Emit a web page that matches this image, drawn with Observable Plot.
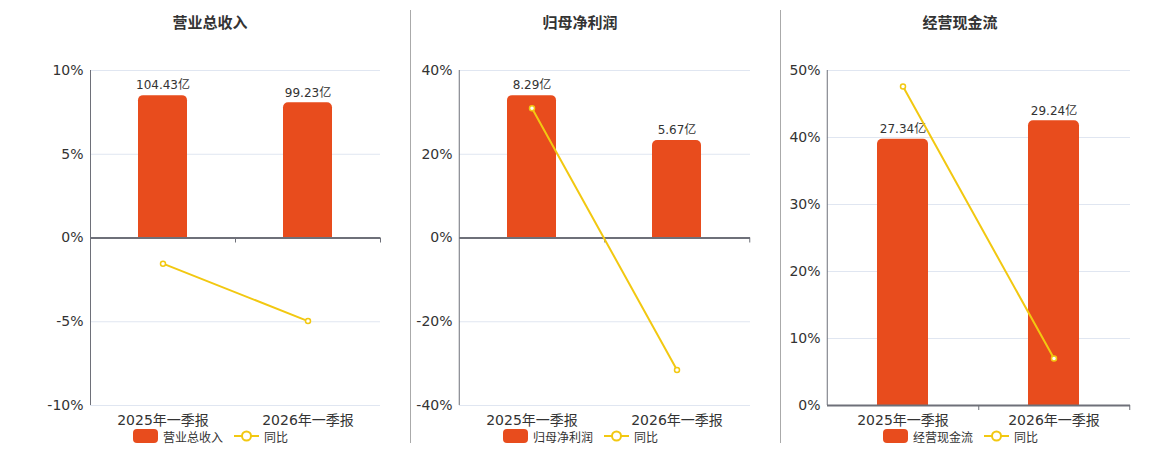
<!DOCTYPE html>
<html><head><meta charset="utf-8">
<script src="https://cdn.jsdelivr.net/npm/d3@7"></script>
<script src="https://cdn.jsdelivr.net/npm/@observablehq/plot@0.6"></script>
<style>
body{margin:0;background:#fff;font-family:"DejaVu Sans","Noto Sans CJK SC",sans-serif;}
#root{position:relative;width:1160px;height:450px;overflow:hidden}
.title{position:absolute;top:13px;line-height:20px;font-size:15px;font-weight:bold;color:#333;transform:translateX(-50%);white-space:nowrap}
.sep{position:absolute;top:10px;height:433px;width:1px;background:#aaa}
.plot{position:absolute;top:0}
.legend{position:absolute;top:429px;height:14px;display:flex;align-items:center;font-size:12px;color:#333;white-space:nowrap}
.sw{width:25px;height:14px;border-radius:4px;background:#E84C1D}
</style></head>
<body><div id="root"></div>
<script>
const periods = ["2025年一季报", "2026年一季报"];
const titles = ["营业总收入", "归母净利润", "经营现金流"];
const revenue = [104.43, 99.23];
const revenueYoY = [-1.53, -4.96];
const profit = [8.29, 5.67];
const profitYoY = [31.0, -31.5];
const cashflow = [27.34, 29.24];
const cashflowYoY = [47.6, 7.0];
const ticks1 = [-10, -5, 0, 5, 10];
const ticks2 = [-40, -20, 0, 20, 40];
const ticks3 = [0, 10, 20, 30, 40, 50];
const yoyName = "同比";

const RED = "#E84C1D", YEL = "#F2C811", AXIS = "#6E7079", GRID = "#E0E6F1";
const root = document.getElementById("root");

const panels = [
  {title: titles[0], values: revenue, yoy: revenueYoY, ticks: ticks1, left: 90, right: 380, center: 210, legendLeft: 133},
  {title: titles[1], values: profit, yoy: profitYoY, ticks: ticks2, left: 459, right: 750, center: 580, legendLeft: 503},
  {title: titles[2], values: cashflow, yoy: cashflowYoY, ticks: ticks3, left: 827, right: 1130, center: 960, legendLeft: 883}
];

[410, 780].forEach(x => {
  const s = document.createElement("div");
  s.className = "sep"; s.style.left = x + "px"; root.appendChild(s);
});

const mL = 60, mR = 10, mT = 70, mB = 30, H = 435;
panels.forEach(p => {
  const t = document.createElement("div");
  t.className = "title"; t.style.left = p.center + "px"; t.textContent = p.title;
  root.appendChild(t);

  const yMin = d3.min(p.ticks), yMax = d3.max(p.ticks);
  const vMax = d3.max(p.values);
  const data = periods.map((period, i) => ({
    period, value: p.values[i], yoy: p.yoy[i],
    bar: p.values[i] / vMax * 0.85 * yMax
  }));
  const plotW = p.right - p.left;
  const plotH = H - mT - mB;
  const step = plotW / periods.length;
  const px = (yMax - yMin) / plotH; // data units per pixel
  const tickLen = 5 * px;

  const chart = Plot.plot({
    width: plotW + mL + mR, height: H,
    marginLeft: mL, marginRight: mR, marginTop: mT, marginBottom: mB,
    style: {fontFamily: '"DejaVu Sans","Noto Sans CJK SC",sans-serif', fontSize: "14px", color: "#333", background: "transparent"},
    x: {domain: periods, paddingInner: 0.662, paddingOuter: 0.331, label: null},
    y: {domain: [yMin, yMax], label: null},
    marks: [
      Plot.gridY(p.ticks, {stroke: GRID, strokeOpacity: 1}),
      Plot.barY(data, {x: "period", y: "bar", fill: RED, rx: 5, ry: 5}),
      Plot.barY(data, {x: "period", y1: 0, y2: d => Math.min(d.bar, 6 * px), fill: RED}),
      Plot.ruleY([0], {stroke: AXIS, strokeWidth: 2}),
      Plot.ruleX(periods, {x: d => d, y1: 0, y2: -tickLen, dx: step / 2, stroke: AXIS}),
      Plot.ruleX([periods[0]], {x: d => d, y1: yMin, y2: yMax, dx: -step / 2, stroke: AXIS}),
      Plot.axisY(p.ticks, {tickSize: 0, tickPadding: 7, tickFormat: d => d + "%", fill: "#333", fontSize: 14, label: null}),
      Plot.axisX({tickSize: 0, tickPadding: 10, fill: "#333", fontSize: 14, label: null}),
      Plot.text(data, {x: "period", y: "bar", text: d => d.value.toFixed(2) + "亿", dy: -10, fontSize: 12, fill: "#333"}),
      Plot.line(data, {x: "period", y: "yoy", stroke: YEL, strokeWidth: 2}),
      Plot.dot(data, {x: "period", y: "yoy", r: 2.5, fill: "white", stroke: YEL, strokeWidth: 1.5})
    ]
  });
  chart.classList.add("plot");
  chart.style.left = (p.left - mL) + "px";
  chart.style.position = "absolute";
  chart.style.top = "0px";
  root.appendChild(chart);

  const lg = document.createElement("div");
  lg.className = "legend"; lg.style.left = p.legendLeft + "px";
  lg.innerHTML = `<div class="sw"></div><span style="margin-left:5px">${p.title}</span>` +
    `<svg width="25" height="14" style="margin-left:11px"><line x1="0" y1="7" x2="25" y2="7" stroke="${YEL}" stroke-width="2"/><circle cx="12.5" cy="7" r="4.5" fill="white" stroke="${YEL}" stroke-width="2"/></svg>` +
    `<span style="margin-left:5px">${yoyName}</span>`;
  root.appendChild(lg);
});
</script></body></html>
